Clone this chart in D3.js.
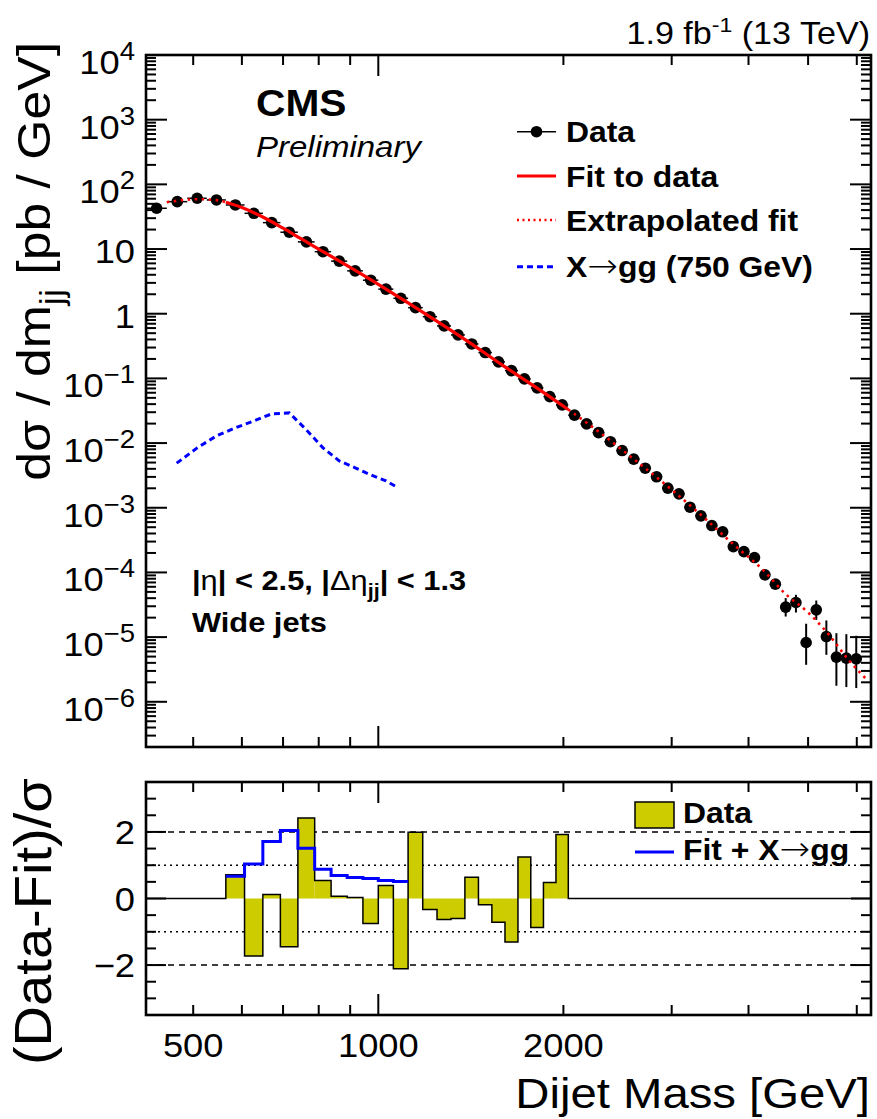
<!DOCTYPE html>
<html>
<head>
<meta charset="utf-8">
<script src="https://cdn.jsdelivr.net/npm/d3@7"></script>
<style>
  body { margin: 0; background: #fff; }
</style>
</head>
<body>
<div id="chart"></div>
<script>
// dijet mass bin edges (GeV)
const massEdges = [419, 453, 489, 526, 565, 606, 649, 693, 740, 788, 838, 890, 944, 1000, 1058, 1118,
  1181, 1246, 1313, 1383, 1455, 1530, 1607, 1687, 1770, 1856, 1945, 2037, 2132, 2231, 2332, 2438, 2546,
  2659, 2775, 2895, 3019, 3147, 3279, 3416, 3558, 3704, 3854, 4010, 4171, 4337, 4509, 4686, 4869, 5058,
  5253, 5455, 5663, 5877, 6099, 6328];

// dsigma/dm per bin (pb/GeV)
const dataXsec = [42.7, 54, 61, 57.4, 48, 35.7, 25.6, 18.2, 12.9, 9.1, 6.5, 4.6, 3.3, 2.4, 1.73, 1.24,
  0.90, 0.648, 0.470, 0.341, 0.251, 0.180, 0.132, 0.0982, 0.0713, 0.0523, 0.0389, 0.0270, 0.0198,
  0.0145, 0.0105, 0.00766, 0.00564, 0.00409, 0.00301, 0.00201, 0.00164, 0.00102, 7.50e-4, 5.31e-4,
  4.25e-4, 2.51e-4, 2.10e-4, 1.70e-4, 9.18e-5, 6.59e-5, 2.91e-5, 3.43e-5, 8.26e-6, 2.64e-5, 1.02e-5,
  4.91e-6, 4.73e-6, 4.62e-6];

// vertical error bars, only where they stick out of the marker
const dataErrHi = [null, null, null, null, null, null, null, null, null, null, null, null, null, null,
  null, null, null, null, null, null, null, null, null, null, null, null, null, null, null, null, null,
  null, null, null, null, null, null, null, null, null, null, null, null, null, null, null,
  4.01e-5, 4.51e-5, 1.61e-5, 3.68e-5, 1.81e-5, 1.15e-5, 1.11e-5, 1.05e-5];
const dataErrLo = [null, null, null, null, null, null, null, null, null, null, null, null, null, null,
  null, null, null, null, null, null, null, null, null, null, null, null, null, null, null, null, null,
  null, null, null, null, null, null, null, null, null, null, null, null, null, null, null,
  2.08e-5, 2.40e-5, 3.73e-6, 1.85e-5, 5.32e-6, 1.77e-6, 1.69e-6, 1.63e-6];

// fit curve, solid inside the fit range, dotted outside
const fitMass = [453, 480, 510, 545, 565, 600, 650, 700, 750, 800, 900, 1000, 1100, 1200, 1400, 1600,
  1800, 2037, 2300, 2600, 3000, 3400, 3800, 4200, 4600, 5000, 5400, 5800, 6200];
const fitXsec = [53, 57, 59, 57, 53, 44, 31, 21, 14.3, 10.0, 5.2, 2.85, 1.62, 0.96, 0.37, 0.155,
  0.074, 0.033, 0.0142, 0.0057, 0.0019, 6.8e-4, 2.6e-4, 1.15e-4, 4.6e-5, 2.4e-5, 1.1e-5, 4.6e-6, 2.3e-6];
const fitRange = [565, 2037];

// X -> gg (750 GeV) signal shape
const signalMass = [470, 507.5, 545.5, 585.5, 627.5, 671, 716.5, 764, 813, 864, 917, 972, 1029, 1072];
const signalXsec = [4.89e-3, 8.43e-3, 1.29e-2, 1.72e-2, 2.20e-2, 2.83e-2, 2.93e-2, 1.60e-2, 8.43e-3,
  5.31e-3, 4.14e-3, 3.23e-3, 2.61e-3, 2.08e-3];

// (Data-Fit)/sigma, bins from 565 to 2037 GeV
const pullStart = 4; // index of 565 GeV in massEdges
const pullData = [0.71, -1.73, 0.12, -1.45, 2.42, 0.54, 0.07, 0.03, -0.75, 0.39, -2.11, 1.99, -0.33,
  -0.63, -0.60, 0.64, -0.19, -0.71, -1.31, 1.25, -0.87, 0.48, 1.92];
const pullSignal = [0.67, 1.04, 1.71, 2.04, 1.51, 0.88, 0.69, 0.63, 0.60, 0.54, 0.51];

const xTicks = [500, 600, 700, 800, 900, 1000, 2000, 3000, 4000, 5000, 6000];
const xMajor = [1000];
const xLabels = [500, 1000, 2000];
const pullLabels = [-2, 0, 2];

const FONT = "'Liberation Sans', Arial, Helvetica, sans-serif";
const SX = 1.1; // ROOT text runs a bit wider than Arial along the baseline

const W = 877, H = 1119;
const left = 146, right = 871;
const mainTop = 55, mainBottom = 747;
const ratioTop = 782, ratioBottom = 1015;

const svg = d3.select("#chart").append("svg")
  .attr("width", W).attr("height", H)
  .attr("viewBox", [0, 0, W, H]);

const x = d3.scaleLog().domain([419, 6328]).range([left, right]);
const y = d3.scaleLog().domain([2e-7, 1e4]).range([mainBottom, mainTop]);
const yr = d3.scaleLinear().domain([-3.5, 3.5]).range([ratioBottom, ratioTop]);

// text with sup/sub parts: parts = [[str, kind, weight]], kind in {undefined,'sup','sub','arrow'}
function label(parent, px, py, parts, o) {
  const size = o.size;
  const t = parent.append("text")
    .attr("transform", o.rotate
      ? `translate(${px},${py}) rotate(-90) scale(${SX},1)`
      : `translate(${px},${py}) scale(${SX},1)`)
    .attr("font-family", FONT)
    .attr("font-size", size)
    .attr("font-weight", o.bold ? "bold" : null)
    .attr("font-style", o.italic ? "italic" : null)
    .attr("text-anchor", o.anchor || "start")
    .attr("fill", "#000");
  let off = 0;
  parts.forEach(([s, kind, w]) => {
    let target = 0, fs = size;
    if (kind === "sup") { target = -(o.supRaise || size * 0.4); fs = o.supSize || size * 0.72; }
    if (kind === "sub") { target = size * 0.28; fs = size * 0.7; }
    const ts = t.append("tspan")
      .attr("dy", target - off)
      .attr("font-size", fs)
      .attr("font-weight", w || null)
      .text(s);
    if (kind === "arrow") {
      ts.attr("font-family", "'DejaVu Sans', sans-serif")
        .attr("font-weight", 200)
        .attr("font-size", size * 1.15);
    }
    off = target;
  });
  return t;
}

// ---------------- main panel ----------------
const main = svg.append("g");

// data: horizontal bin-width bars, vertical errors, markers
const centers = dataXsec.map((v, i) => (massEdges[i] + massEdges[i + 1]) / 2);

main.append("g").selectAll("line")
  .data(dataXsec)
  .join("line")
    .attr("x1", (d, i) => x(massEdges[i]))
    .attr("x2", (d, i) => x(massEdges[i + 1]))
    .attr("y1", d => y(d)).attr("y2", d => y(d))
    .attr("stroke", "#000").attr("stroke-width", 1.5);

main.append("g").selectAll("line")
  .data(dataXsec.map((d, i) => ({ i, hi: dataErrHi[i], lo: dataErrLo[i] })).filter(d => d.hi != null))
  .join("line")
    .attr("x1", d => x(centers[d.i])).attr("x2", d => x(centers[d.i]))
    .attr("y1", d => y(d.hi)).attr("y2", d => y(d.lo))
    .attr("stroke", "#000").attr("stroke-width", 2);

main.append("g").selectAll("circle")
  .data(dataXsec)
  .join("circle")
    .attr("cx", (d, i) => x(centers[i]))
    .attr("cy", d => y(d))
    .attr("r", 5.8)
    .attr("fill", "#000");

// fit
const fitPts = fitMass.map((m, i) => [m, fitXsec[i]]);
const fitLine = d3.line().x(d => x(d[0])).y(d => y(d[1])).curve(d3.curveMonotoneX);

main.append("path")
  .attr("d", fitLine(fitPts.filter(d => d[0] >= fitRange[0] && d[0] <= fitRange[1])))
  .attr("fill", "none").attr("stroke", "#ff0000").attr("stroke-width", 3.2);

[fitPts.filter(d => d[0] <= fitRange[0]), fitPts.filter(d => d[0] >= fitRange[1])].forEach(seg => {
  main.append("path")
    .attr("d", fitLine(seg))
    .attr("fill", "none").attr("stroke", "#ff0000").attr("stroke-width", 2.6)
    .attr("stroke-dasharray", "2.5,4.5");
});

// signal
main.append("path")
  .attr("d", d3.line().x(d => x(d[0])).y(d => y(d[1]))(signalMass.map((m, i) => [m, signalXsec[i]])))
  .attr("fill", "none").attr("stroke", "#0000ff").attr("stroke-width", 3)
  .attr("stroke-dasharray", "6,4");

// frame + ticks
function logYTicks() {
  const out = [];
  for (let e = -7; e <= 4; e++) {
    for (let k = 1; k <= 9; k++) {
      const v = k * Math.pow(10, e);
      if (v >= 2e-7 * 0.999 && v <= 1e4 * 1.001) out.push({ v, major: k === 1 });
    }
  }
  return out;
}

function xTickMarks(g, top, bottom) {
  xTicks.forEach(m => {
    const len = xMajor.includes(m) ? 21 : 10;
    g.append("line").attr("x1", x(m)).attr("x2", x(m)).attr("y1", bottom).attr("y2", bottom - len);
    g.append("line").attr("x1", x(m)).attr("x2", x(m)).attr("y1", top).attr("y2", top + len);
  });
}

const mainAxes = svg.append("g").attr("stroke", "#000").attr("stroke-width", 2);
logYTicks().forEach(t => {
  const len = t.major ? 21 : 10;
  mainAxes.append("line").attr("x1", left).attr("x2", left + len).attr("y1", y(t.v)).attr("y2", y(t.v));
  mainAxes.append("line").attr("x1", right).attr("x2", right - len).attr("y1", y(t.v)).attr("y2", y(t.v));
});
xTickMarks(mainAxes, mainTop, mainBottom);
svg.append("rect")
  .attr("x", left).attr("y", mainTop)
  .attr("width", right - left).attr("height", mainBottom - mainTop)
  .attr("fill", "none").attr("stroke", "#000").attr("stroke-width", 2.6);

// y tick labels
const labels = svg.append("g");
for (let e = -6; e <= 4; e++) {
  const ty = y(Math.pow(10, e));
  if (e === 0) label(labels, 135, ty + 14, [["1"]], { size: 33, anchor: "end" });
  else if (e === 1) label(labels, 135, ty + 14, [["10"]], { size: 33, anchor: "end" });
  else label(labels, 135, ty + 19, [["10"], [e < 0 ? "\u2212" + (-e) : String(e), "sup"]],
    { size: 33, anchor: "end", supSize: 25, supRaise: 14 });
}

// y title
label(labels, 50, 42, [["d\u03c3 / dm"], ["jj", "sub"], [" [pb / GeV]"]],
  { size: 47, rotate: true, anchor: "end" });

// lumi label
label(labels, 870, 44, [["1.9 fb"], ["-1", "sup"], [" (13 TeV)"]],
  { size: 31, anchor: "end", supSize: 21, supRaise: 12 });

// CMS
label(labels, 256, 116, [["CMS"]], { size: 37, bold: true });
label(labels, 256, 157, [["Preliminary"]], { size: 30, italic: true });

// selection text
label(labels, 192, 590, [["|"], ["\u03b7", null, "normal"], ["| < 2.5, |"], ["\u0394\u03b7", null, "normal"],
  ["jj", "sub"], ["| < 1.3"]], { size: 28, bold: true });
label(labels, 192, 632, [["Wide jets"]], { size: 28, bold: true });

// legend
const leg = svg.append("g");
const lx0 = 517, lx1 = 556, ltx = 566;
leg.append("line").attr("x1", lx0).attr("x2", lx1).attr("y1", 131.7).attr("y2", 131.7)
  .attr("stroke", "#000").attr("stroke-width", 1.5);
leg.append("circle").attr("cx", (lx0 + lx1) / 2).attr("cy", 131.7).attr("r", 5.8).attr("fill", "#000");
leg.append("line").attr("x1", lx0).attr("x2", lx1).attr("y1", 176).attr("y2", 176)
  .attr("stroke", "#ff0000").attr("stroke-width", 3.2);
leg.append("line").attr("x1", lx0).attr("x2", lx1).attr("y1", 220).attr("y2", 220)
  .attr("stroke", "#ff0000").attr("stroke-width", 2.6).attr("stroke-dasharray", "2,3.5");
leg.append("line").attr("x1", lx0).attr("x2", lx1).attr("y1", 266.7).attr("y2", 266.7)
  .attr("stroke", "#0000ff").attr("stroke-width", 3).attr("stroke-dasharray", "6,4");
label(leg, ltx, 142, [["Data"]], { size: 29, bold: true });
label(leg, ltx, 186.5, [["Fit to data"]], { size: 29, bold: true });
label(leg, ltx, 230.5, [["Extrapolated fit"]], { size: 29, bold: true });
label(leg, ltx, 277, [["X"], ["\u2192", "arrow"], ["gg (750 GeV)"]], { size: 29, bold: true });

// ---------------- ratio panel ----------------
const ratio = svg.append("g");

[[2, "6,5"], [-2, "6,5"], [1, "2,4"], [-1, "2,4"]].forEach(([v, dash]) => {
  ratio.append("line")
    .attr("x1", left).attr("x2", right).attr("y1", yr(v)).attr("y2", yr(v))
    .attr("stroke", "#000").attr("stroke-width", 1.5).attr("stroke-dasharray", dash);
});

ratio.append("g").selectAll("rect")
  .data(pullData)
  .join("rect")
    .attr("x", (d, i) => x(massEdges[pullStart + i]))
    .attr("width", (d, i) => x(massEdges[pullStart + i + 1]) - x(massEdges[pullStart + i]))
    .attr("y", d => yr(Math.max(0, d)))
    .attr("height", d => Math.abs(yr(d) - yr(0)))
    .attr("fill", "#cccc00");

// step outline of the pull histogram
const outline = [[left, yr(0)], [x(massEdges[pullStart]), yr(0)]];
pullData.forEach((d, i) => {
  outline.push([x(massEdges[pullStart + i]), yr(d)]);
  outline.push([x(massEdges[pullStart + i + 1]), yr(d)]);
});
outline.push([x(massEdges[pullStart + pullData.length]), yr(0)]);
outline.push([right, yr(0)]);
ratio.append("path")
  .attr("d", d3.line()(outline))
  .attr("fill", "none").attr("stroke", "#000").attr("stroke-width", 1.5);

// signal step line
const sigStep = [];
pullSignal.forEach((d, i) => {
  sigStep.push([x(massEdges[pullStart + i]), yr(d)]);
  sigStep.push([x(massEdges[pullStart + i + 1]), yr(d)]);
});
ratio.append("path")
  .attr("d", d3.line()(sigStep))
  .attr("fill", "none").attr("stroke", "#0000ff").attr("stroke-width", 3);

const ratioAxes = svg.append("g").attr("stroke", "#000").attr("stroke-width", 2);
d3.range(-3.5, 3.51, 0.5).forEach(v => {
  const len = pullLabels.includes(v) ? 20 : 10;
  ratioAxes.append("line").attr("x1", left).attr("x2", left + len).attr("y1", yr(v)).attr("y2", yr(v));
  ratioAxes.append("line").attr("x1", right).attr("x2", right - len).attr("y1", yr(v)).attr("y2", yr(v));
});
xTickMarks(ratioAxes, ratioTop, ratioBottom);
svg.append("rect")
  .attr("x", left).attr("y", ratioTop)
  .attr("width", right - left).attr("height", ratioBottom - ratioTop)
  .attr("fill", "none").attr("stroke", "#000").attr("stroke-width", 2.6);

pullLabels.forEach(v => {
  label(labels, 135, yr(v) + 12, [[v < 0 ? "\u2212" + (-v) : String(v)]], { size: 33, anchor: "end" });
});
label(labels, 51, 778, [["(Data-Fit)/\u03c3"]], { size: 51, rotate: true, anchor: "end" });

// x tick labels + title
xLabels.forEach(m => {
  label(labels, x(m), 1057, [[String(m)]], { size: 33, anchor: "middle" });
});
label(labels, 870, 1108, [["Dijet Mass [GeV]"]], { size: 43, anchor: "end" });

// ratio legend
const rleg = svg.append("g");
rleg.append("rect").attr("x", 635).attr("y", 802).attr("width", 39).attr("height", 26)
  .attr("fill", "#cccc00").attr("stroke", "#000").attr("stroke-width", 1.5);
rleg.append("line").attr("x1", 635).attr("x2", 674).attr("y1", 852).attr("y2", 852)
  .attr("stroke", "#0000ff").attr("stroke-width", 3);
label(rleg, 683, 823, [["Data"]], { size: 29, bold: true });
label(rleg, 683, 860, [["Fit + X"], ["\u2192", "arrow"], ["gg"]], { size: 29, bold: true });
</script>
</body>
</html>
